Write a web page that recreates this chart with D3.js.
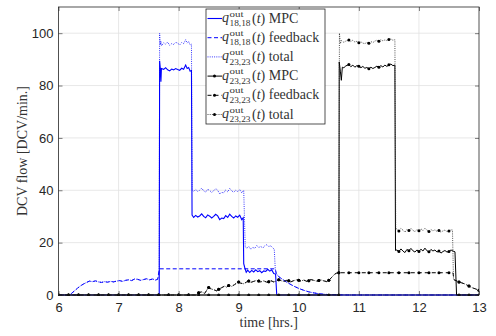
<!DOCTYPE html>
<html>
<head>
<meta charset="utf-8">
<script src="https://cdn.jsdelivr.net/npm/d3@7"></script>
<style>
  body { margin: 0; background: #fff; }
  svg { display: block; }
  .serif { font-family: "Liberation Serif", "Times New Roman", serif; font-weight: normal; }
  .sans { font-family: "Liberation Sans", Arial, sans-serif; }
</style>
</head>
<body>
<svg id="chart" width="496" height="336"></svg>
<script>
// times are minutes after midnight (360 = 6 h, 780 = 13 h)
const hourTicks = [360, 420, 480, 540, 600, 660, 720, 780];
const flowTicks = [0, 20, 40, 60, 80, 100];

// q_18,18 pieces
const blueRamp = [[360,0],[370,0],[373,0.6],[376,1.6],[379,2.6],[382,3.5],[385,4.2],[388,4.8],[391,5.3],[394,5.1],[397,5.4],[400,5.0],[403,4.8],[406,5.1],[409,4.9],[412,5.2],[415,5.0],[418,5.3],[421,5.5],[424,5.2],[427,5.6],[430,5.8],[433,5.5],[436,6.1],[439,6.0],[442,5.6],[445,5.9],[448,6.2],[451,5.8],[454,6.1],[457,5.7],[459,6.0]];
const blueDecay = [[577.5,8.2],[580,7.0],[584,5.9],[588,4.9],[592,4.0],[596,3.2],[600,2.5],[605,1.8],[610,1.2],[615,0.8],[620,0.5],[625,0.3],[630,0.15],[640,0.05],[650,0],[780,0]];

const blueMpc = [[360,0],[460.6,0],[461,89.5],[461.8,86],[462.3,81.5],[462.8,86.5],[465,86.2],[467,86.8],[469,86.0],[471,85.6],[473,86.3],[475,86.0],[477,86.5],[479,86.1],[481,85.8],[483,86.6],[485,86.2],[487,87.8],[488.5,86.5],[490,86.9],[491.5,85.5],[492.8,85.8],[493.4,30.5],[495,29.6],[497,30.4],[499,29.8],[501,30.2],[503,31.0],[505,30.0],[507,29.5],[509,30.6],[511,30.1],[513,29.4],[515,30.0],[517,30.8],[519,30.2],[521,28.8],[523,29.4],[525,29.2],[527,30.3],[529,29.6],[531,30.9],[533,30.0],[535,29.4],[537,30.2],[539,29.7],[541,30.5],[543,28.8],[544.5,29.5],[545,12],[546,10.5],[547.5,8.7],[549,9.5],[551,8.6],[553,9.4],[555,8.8],[557,9.6],[559,8.9],[561,9.3],[563,8.5],[565,9.2],[567,9.0],[569,9.8],[571,9.1],[573,9.6],[575,8.2],[576.8,8.0],[578,0],[780,0]];
const blueFeedback = [...blueRamp, [460.8,10], [576.5,10], ...blueDecay];
const blueTotal = [...blueRamp, [460.6,8],[461,100],[461.6,95.5],[462.2,97],[463,95.2],[465,96.3],[467,95.8],[469,96.6],[471,95.4],[473,96.0],[475,95.7],[477,96.5],[479,96.2],[481,95.5],[483,96.4],[485,96.0],[487,97.5],[488.5,96.2],[490,96.8],[491.5,95.5],[492.8,95.8],[493.5,40.2],[495,39.5],[497,40.3],[499,39.6],[501,40.0],[503,40.8],[505,39.8],[507,39.3],[509,40.4],[511,39.9],[513,39.2],[515,39.8],[517,40.6],[519,40.0],[521,38.6],[523,39.2],[525,39.0],[527,40.1],[529,39.4],[531,40.7],[533,39.8],[535,39.2],[537,40.0],[539,39.5],[541,40.3],[543,39.0],[545,40.0],[546.5,18.5],[548,17.8],[550,18.6],[552,17.5],[554,18.2],[556,17.8],[558,18.9],[560,18.1],[562,18.6],[564,17.9],[566,18.8],[568,19.2],[570,18.5],[572,18.8],[574,18.0],[575.5,17.5],[576.5,10], ...blueDecay];

// q_23,23 pieces
const blackRise = [[360,0],[370,0],[380,0],[390,0],[400,0],[410,0],[420,0],[430,0],[440,0],[450,0],[460,0],[470,0],[480,0],[490,0],[497,0],[500,0.9],[503,1.2],[506,0.6],[509,2.4],[510,2.9],[512,2.4],[515,2.0],[518,1.6],[520,2.2],[523,2.8],[526,3.4],[528,3.0],[530,3.6],[533,3.3],[536,4.0],[538,4.6],[540,5.0],[542,4.5],[545,4.3],[548,5.0],[550,5.3],[552,4.8],[555,5.2],[558,5.6],[560,5.3],[562,5.0],[565,5.4],[568,4.9],[570,5.1],[572,5.5],[575,5.0],[578,5.4],[580,5.8],[582,5.5],[585,5.2],[588,5.6],[590,5.4],[592,5.0],[595,5.5],[598,5.8],[600,5.6],[602,5.3],[605,5.7],[608,5.2],[610,5.4],[612,5.9],[615,5.6],[618,5.3],[620,5.5],[622,5.8],[625,5.4],[628,5.1],[630,5.6],[633,6.8],[636,8.0],[638,8.4],[640,8.5]];
const blackTail = [[757,5.5],[760,5.0],[763,4.6],[766,4.2],[770,3.4],[773,2.8],[776,2.4],[780,1.8]];

const blackMpc = [[360,0],[370,0],[380,0],[390,0],[400,0],[410,0],[420,0],[430,0],[440,0],[450,0],[460,0],[470,0],[480,0],[490,0],[500,0],[510,0],[520,0],[530,0],[540,0],[550,0],[560,0],[570,0],[580,0],[590,0],[600,0],[610,0],[620,0],[630,0],[640,0],[640.4,89],[641.5,85.5],[642.5,82],[643.5,87],[645,86.8],[647,87.5],[650,88.0],[652,87.2],[654,87.8],[656,87.0],[658,87.6],[660,87.4],[662,86.8],[664,87.3],[666,86.6],[668,86.9],[670,86.4],[672,87.0],[674,86.5],[676,86.9],[678,87.4],[680,87.0],[682,87.6],[684,87.1],[686,87.8],[688,87.3],[690,87.9],[692,88.2],[694,87.6],[696,87.8],[696.6,17.0],[698,17.2],[700,16.6],[702,17.6],[704,16.8],[706,16.2],[708,17.4],[710,16.9],[712,17.8],[714,16.9],[716,16.4],[718,17.2],[720,16.6],[722,17.5],[724,16.8],[726,17.9],[728,16.9],[730,16.5],[732,17.4],[734,16.8],[736,17.2],[738,16.4],[740,16.8],[742,16.0],[744,16.6],[746,17.0],[748,16.4],[750,16.6],[752,17.2],[754,16.8],[756,16.5],[757.6,0],[760,0],[770,0],[780,0]];
const blackFeedback = [...blackRise, [650,8.5],[660,8.5],[670,8.5],[680,8.5],[690,8.5],[700,8.5],[710,8.5],[720,8.5],[730,8.5],[740,8.5],[750,8.5],[754,8.5],[755,5.8], ...blackTail];
const blackTotal = [...blackRise, [640.6,100],[641.5,96],[642.5,97.2],[645,96.5],[647,97.0],[650,97.4],[652,96.8],[654,97.3],[656,96.6],[658,96.9],[660,96.3],[662,96.7],[664,96.2],[666,96.0],[668,96.5],[670,96.2],[672,96.8],[674,96.4],[676,97.0],[678,97.3],[680,96.9],[682,97.5],[684,97.1],[686,97.4],[688,97.2],[690,97.6],[692,97.8],[694,97.3],[696,97.5],[696.8,25.5],[698,25.2],[700,24.4],[702,25.4],[704,24.8],[706,24.0],[708,25.0],[710,24.6],[712,25.5],[714,24.7],[716,24.2],[718,25.0],[720,24.5],[722,25.3],[724,24.6],[726,25.5],[728,24.8],[730,24.3],[732,25.0],[734,24.5],[736,24.9],[738,24.3],[740,24.6],[742,24.0],[744,24.5],[746,24.8],[748,24.2],[750,24.4],[752,24.9],[753.5,24.8],[754.5,6.0], ...blackTail];

const seriesNames = ["18,18", "18,18", "23,23", "23,23", "23,23", "23,23"];
const seriesKinds = ["MPC", "feedback", "total", "MPC", "feedback", "total"];

const svg = d3.select("#chart");
const plotLeft = 58.5, plotRight = 479, plotTop = 7, plotBottom = 295;
const axisColor = "#262626";
const textColor = "#333";

const x = d3.scaleLinear().domain([360, 780]).range([plotLeft, plotRight]);
const y = d3.scaleLinear().domain([0, 110]).range([plotBottom, plotTop]);

// grid
const grid = svg.append("g").attr("stroke", "#e2e2e2").attr("stroke-width", 0.8);
grid.selectAll(".gx").data(hourTicks.slice(1, -1)).enter().append("line")
    .attr("x1", d => x(d)).attr("x2", d => x(d)).attr("y1", plotTop).attr("y2", plotBottom);
grid.selectAll(".gy").data(flowTicks.slice(1)).enter().append("line")
    .attr("x1", plotLeft).attr("x2", plotRight).attr("y1", d => y(d)).attr("y2", d => y(d));

svg.append("clipPath").attr("id", "plot").append("rect")
    .attr("x", plotLeft).attr("y", plotTop - 1).attr("width", plotRight - plotLeft).attr("height", plotBottom - plotTop + 2);

const line = d3.line().x(d => x(d[0])).y(d => y(d[1]));

const styles = [
    { data: blueMpc, color: "#0000ff", width: 1.1, dash: null, dots: false },
    { data: blueFeedback, color: "#0000ff", width: 1, dash: "4,2.5", dots: false },
    { data: blueTotal, color: "#0000ff", width: 0.8, dash: "1,1.2", dots: false },
    { data: blackMpc, color: "#000", width: 1, dash: null, dots: true },
    { data: blackFeedback, color: "#000", width: 1, dash: "4,3", dots: true },
    { data: blackTotal, color: "#222", width: 0.8, dash: "1,1.2", dots: true }
];

const plot = svg.append("g").attr("clip-path", "url(#plot)");
styles.forEach(s => {
    plot.append("path")
        .attr("d", line(s.data))
        .attr("fill", "none")
        .attr("stroke", s.color)
        .attr("stroke-width", s.width)
        .attr("stroke-dasharray", s.dash);
    if (s.dots) {
        // markers every 10 minutes
        plot.selectAll(null)
            .data(s.data.filter(d => d[0] % 10 === 0))
            .enter().append("circle")
            .attr("cx", d => x(d[0]))
            .attr("cy", d => y(d[1]))
            .attr("r", 1.5)
            .attr("fill", "#000");
    }
});

// axes (ticks inside on all four sides)
const tickFont = g => g.selectAll("text")
    .attr("class", "sans")
    .attr("font-family", null)
    .attr("font-size", 13)
    .attr("fill", axisColor);
const axisStyle = g => {
    g.select(".domain").remove();
    g.selectAll("line").attr("stroke", axisColor).attr("stroke-width", 0.6);
};

svg.append("g").attr("transform", `translate(0,${plotBottom})`)
    .call(d3.axisBottom(x).tickValues(hourTicks).tickFormat(d => d / 60).tickSizeInner(-4).tickSizeOuter(0).tickPadding(8))
    .call(axisStyle).call(tickFont);
svg.append("g").attr("transform", `translate(0,${plotTop})`)
    .call(d3.axisTop(x).tickValues(hourTicks).tickFormat("").tickSizeInner(-4).tickSizeOuter(0))
    .call(axisStyle);
svg.append("g").attr("transform", `translate(${plotLeft},0)`)
    .call(d3.axisLeft(y).tickValues(flowTicks).tickSizeInner(-4).tickSizeOuter(0).tickPadding(5))
    .call(axisStyle).call(tickFont);
svg.append("g").attr("transform", `translate(${plotRight},0)`)
    .call(d3.axisRight(y).tickValues(flowTicks).tickFormat("").tickSizeInner(-4).tickSizeOuter(0))
    .call(axisStyle);

svg.append("rect")
    .attr("x", plotLeft).attr("y", plotTop).attr("width", plotRight - plotLeft).attr("height", plotBottom - plotTop)
    .attr("fill", "none").attr("stroke", axisColor).attr("stroke-width", 0.8);

// axis labels
svg.append("text")
    .attr("class", "serif")
    .attr("x", (plotLeft + plotRight) / 2).attr("y", 327)
    .attr("text-anchor", "middle")
    .attr("font-size", 14).attr("fill", textColor)
    .text("time [hrs.]");
svg.append("text")
    .attr("class", "serif")
    .attr("transform", `translate(27,${(plotTop + plotBottom) / 2}) rotate(-90)`)
    .attr("text-anchor", "middle")
    .attr("font-size", 14).attr("fill", textColor)
    .text("DCV flow [DCV/min.]");

// legend
const legend = svg.append("g");
legend.append("rect")
    .attr("x", 206).attr("y", 9).attr("width", 119).attr("height", 115)
    .attr("fill", "#fff").attr("stroke", axisColor).attr("stroke-width", 0.8);

styles.forEach((s, i) => {
    const yc = 18.5 + i * 19.2;
    legend.append("line")
        .attr("x1", 207.5).attr("x2", 222).attr("y1", yc).attr("y2", yc)
        .attr("stroke", s.color).attr("stroke-width", s.width)
        .attr("stroke-dasharray", s.dash);
    if (s.dots) {
        legend.append("circle").attr("cx", 214.5).attr("cy", yc).attr("r", 1.5).attr("fill", "#000");
    }
    legend.append("text").attr("class", "serif")
        .attr("x", 222).attr("y", yc + 3.5)
        .attr("font-size", 14).attr("font-style", "italic").attr("fill", textColor)
        .text("q");
    // superscript and subscript stacked, as in the LaTeX legend
    legend.append("text").attr("class", "serif")
        .attr("x", 229.5).attr("y", yc - 2)
        .attr("font-size", 8.5).attr("fill", textColor)
        .attr("textLength", 14).attr("lengthAdjust", "spacingAndGlyphs")
        .text("out");
    legend.append("text").attr("class", "serif")
        .attr("x", 229.5).attr("y", yc + 7.6)
        .attr("font-size", 8).attr("fill", textColor)
        .attr("textLength", 21).attr("lengthAdjust", "spacingAndGlyphs")
        .text(seriesNames[i]);
    const t = legend.append("text").attr("class", "serif")
        .attr("x", 252).attr("y", yc + 4)
        .attr("font-size", 14).attr("fill", textColor);
    t.append("tspan").text("(");
    t.append("tspan").attr("font-style", "italic").text("t");
    t.append("tspan").text(") " + seriesKinds[i]);
});
</script>
</body>
</html>
